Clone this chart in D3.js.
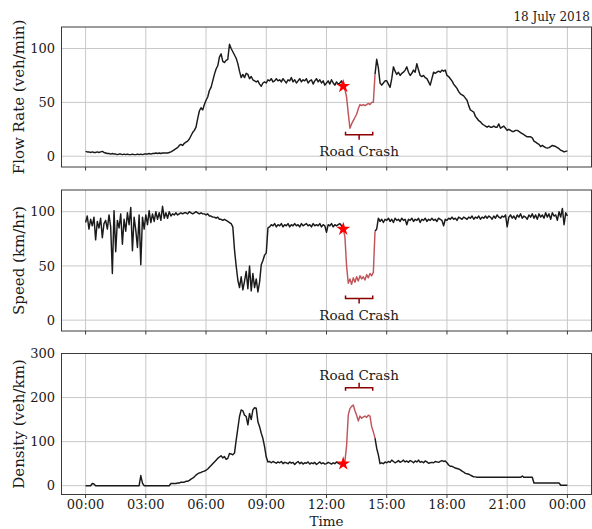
<!DOCTYPE html>
<html>
<head>
<meta charset="utf-8">
<script src="https://cdn.jsdelivr.net/npm/d3@7"></script>
<style>
  body { margin: 0; background: #fff; }
  svg { display: block; }
  text { font-family: "DejaVu Serif", "Liberation Serif", serif; fill: #1a1a1a; }
</style>
</head>
<body>
<svg id="chart" width="592" height="529"></svg>
<script>
// Loop-detector readings for 18 July 2018, one value every 5 minutes from 00:00 to 24:00.
const sampleMinutes = 5;

const flowRate = [
  4.5,4,4,3.5,4,3.5,3.5,4,3.5,4,4.5,3.5,
  3,2.5,2.5,2,2.5,2,2,1.5,2,2,1.5,2,
  1.5,2,1.5,1.5,2,1.5,1.5,2,1.5,2,1.5,2,
  2,2,2.5,2,2.5,2.5,3,2.5,3,2.5,3,3,
  3,3,3.5,4,5,6,7,8,10,11,10,12,
  13,14,16,19,22,24,27,35,42,45,43,48,
  52,55,61,64,70,76,81,84,92,95,88,87,
  89,90,104,100,97,94,91,86,79,73,76,73,
  77,76,72,74,71,70,69,70,67,65,68,69,
  68,71,70,72,69,70,72,70,71,69,72,70,
  68,71,70,73,69,71,68,70,72,69,71,70,
  72,68,70,71,67,70,72,69,71,68,70,66,
  68,70,67,71,68,66,69,67,68,70,65,62,
  55,40,26,30,33,36,39,44,48,47,48,47,
  48,49,48,50,50,76,90,82,68,66,68,70,
  70,67,64,72,83,79,76,78,75,77,78,80,
  83,78,75,77,80,78,86,80,75,74,75,73,
  72,69,66,72,78,77,78,79,78,80,79,80,
  75,74,72,70,67,65,63,60,58,57,56,54,
  52,47,43,42,41,37,35,33,32,30,29,28,
  27,28,27,27,28,27,27,30,26,27,28,26,
  24,25,24,23,23,24,24,23,22,21,20,19,
  18,18,18,17,14,13,12,11,9,10,9,8,
  7.5,8,9,10,9.5,9,8,7,5.5,5,4,4.5,
  5
];

const speed = [
  90,96,84,93,87,95,74,91,85,94,76,89,
  92,84,97,86,43,101,63,92,85,98,70,93,
  82,99,88,104,64,95,83,67,97,51,95,84,
  97,88,101,90,98,91,100,93,99,92,105,94,
  99,94,100,96,98,97,99,97,98,99,98,99,
  99,98,100,99,98,99,100,99,98,99,98,98,
  97,98,96,96,95,95,94,95,93,93,92,93,
  92,91,90,89,86,65,50,37,30,40,28,36,
  45,29,50,27,43,30,38,26,35,51,55,60,
  62,85,86,88,87,89,86,88,87,89,86,88,
  87,89,86,88,87,89,87,88,86,89,87,88,
  89,87,88,86,89,87,88,87,89,86,88,87,
  81,88,87,89,86,88,87,88,89,87,84,77,
  50,34,38,33,39,35,40,36,41,38,40,37,
  42,39,43,41,44,82,84,94,91,93,90,93,
  92,94,91,93,90,94,92,93,91,94,92,93,
  88,93,92,94,91,93,92,94,90,93,92,94,
  91,93,92,94,92,93,91,94,93,92,87,93,
  92,94,93,95,93,94,92,95,94,93,95,94,
  93,95,94,96,93,95,94,96,93,95,94,96,
  94,96,95,93,96,94,97,95,94,96,95,97,
  86,95,97,94,96,93,97,95,98,94,96,95,
  93,97,95,98,94,97,93,98,95,97,94,99,
  95,98,93,99,96,97,92,100,95,103,88,99,
  96
];

const density = [
  0,0,0,0,5,4,0,0,0,0,0,0,
  0,0,0,0,0,0,0,0,0,0,0,0,
  0,0,0,0,0,0,0,0,0,23,6,0,
  0,0,0,0,0,0,0,0,0,0,0,0,
  0,0,0,5,5,5,5,6,6,8,8,8,
  10,10,12,15,17,20,24,27,29,30,32,33,
  35,38,42,46,50,54,58,62,65,68,63,66,
  60,62,73,72,70,74,103,130,157,172,170,160,
  157,138,164,150,172,177,176,145,134,119,107,88,
  65,54,55,52,55,53,51,54,52,55,50,53,
  52,50,54,51,53,48,52,55,50,53,49,52,
  51,54,49,52,50,53,48,51,54,50,52,49,
  50,53,51,49,52,50,54,51,49,52,50,55,
  90,160,175,180,183,170,160,147,158,153,156,158,
  155,160,158,134,122,108,85,70,50,52,50,54,
  52,55,53,58,55,52,54,57,53,55,58,54,
  56,53,57,55,52,56,54,58,53,55,52,56,
  54,51,52,53,52,55,54,53,55,57,55,56,
  52,47,44,44,42,40,39,38,36,33,31,28,
  27,26,24,22,20,20,19,19,19,19,19,19,
  19,19,19,19,19,19,19,19,19,19,19,19,
  19,19,19,19,19,19,19,19,19,22,19,19,
  19,19,19,19,6,6,6,6,6,6,6,6,
  6,6,6,6,6,6,6,6,1,1,1,1,
  1
];

// Road crash window, minutes after midnight (12:50 – 14:25)
const crashStart = 770;
const crashEnd = 865;

const xTickMinutes = [0, 180, 360, 540, 720, 900, 1080, 1260, 1440];
const xTickLabels = ["00:00", "03:00", "06:00", "09:00", "12:00", "15:00", "18:00", "21:00", "00:00"];

const flowTicks = [0, 50, 100];
const speedTicks = [0, 50, 100];
const densityTicks = [0, 100, 200, 300];

const panelLabels = ["Flow Rate (veh/min)", "Speed (km/hr)", "Density (veh/km)"];
const crashLabel = "Road Crash";
const dateLabel = "18 July 2018";
const xAxisLabel = "Time";

// ---- layout & drawing ----
const svg = d3.select("#chart");
const left = 61.5, right = 591.5;
const x = d3.scaleLinear().domain([-72, 1512]).range([left, right]);

const panels = [
  { values: flowRate, label: panelLabels[0], domain: [-10, 120], ticks: flowTicks,
    top: 27, bottom: 167, bracket: 20, text: 0, capDir: -1 },
  { values: speed, label: panelLabels[1], domain: [-10, 120], ticks: speedTicks,
    top: 190, bottom: 331, bracket: 20, text: 0, capDir: -1 },
  { values: density, label: panelLabels[2], domain: [-20, 300], ticks: densityTicks,
    top: 353.5, bottom: 494.5, bracket: 222, text: 240, capDir: 1 }
];

const gridColor = "#c8c8c8";
const frameColor = "#3a3a3a";
const lineColor = "#1a1a1a";
const crashColor = "#c0555a";
const bracketColor = "#8b0000";

panels.forEach((p, idx) => {
  const y = d3.scaleLinear().domain(p.domain).range([p.bottom, p.top]);
  const g = svg.append("g");

  // grid
  g.selectAll(".vgrid").data(xTickMinutes).join("line")
    .attr("x1", d => x(d)).attr("x2", d => x(d))
    .attr("y1", p.top).attr("y2", p.bottom)
    .attr("stroke", gridColor).attr("stroke-width", 1);
  g.selectAll(".hgrid").data(p.ticks).join("line")
    .attr("x1", left).attr("x2", right)
    .attr("y1", d => y(d)).attr("y2", d => y(d))
    .attr("stroke", gridColor).attr("stroke-width", 1);

  // series, with the crash window drawn in red
  const pts = p.values.map((v, i) => ({ t: i * sampleMinutes, v }));
  const line = d3.line().x(d => x(d.t)).y(d => y(d.v));
  const before = pts.filter(d => d.t <= crashStart);
  const during = pts.filter(d => d.t >= crashStart && d.t <= crashEnd);
  const after = pts.filter(d => d.t >= crashEnd);
  [before, after].forEach(seg => {
    g.append("path").datum(seg).attr("d", line)
      .attr("fill", "none").attr("stroke", lineColor)
      .attr("stroke-width", 1.45).attr("stroke-linejoin", "round");
  });
  g.append("path").datum(during).attr("d", line)
    .attr("fill", "none").attr("stroke", crashColor)
    .attr("stroke-width", 1.45).attr("stroke-linejoin", "round");

  // crash onset star
  const startVal = p.values[crashStart / sampleMinutes];
  g.append("path")
    .attr("d", d3.symbol(d3.symbolStar).size(60)())
    .attr("transform", `translate(${x(crashStart)},${y(startVal)})`)
    .attr("fill", "#ff0000");

  // bracket annotation
  const cx = x((crashStart + crashEnd) / 2);
  const halfW = 13.6;
  const by = y(p.bracket);
  const cap = 3 * p.capDir;
  const stem = -5 * p.capDir;
  const bpath = d3.path();
  bpath.moveTo(cx - halfW, by + cap);
  bpath.lineTo(cx - halfW, by);
  bpath.lineTo(cx + halfW, by);
  bpath.lineTo(cx + halfW, by + cap);
  bpath.moveTo(cx, by);
  bpath.lineTo(cx, by + stem);
  g.append("path").attr("d", bpath.toString())
    .attr("fill", "none").attr("stroke", bracketColor).attr("stroke-width", 1.5);
  g.append("text").attr("x", cx).attr("y", y(p.text))
    .attr("text-anchor", "middle").attr("font-size", 13.5)
    .text(crashLabel);

  // frame
  g.append("rect").attr("x", left).attr("y", p.top)
    .attr("width", right - left).attr("height", p.bottom - p.top)
    .attr("fill", "none").attr("stroke", frameColor).attr("stroke-width", 1);

  // x tick marks
  g.selectAll(".xtick").data(xTickMinutes).join("line")
    .attr("x1", d => x(d)).attr("x2", d => x(d))
    .attr("y1", p.bottom).attr("y2", p.bottom + 3.5)
    .attr("stroke", frameColor).attr("stroke-width", 1);

  // y tick labels
  g.selectAll(".ylab").data(p.ticks).join("text")
    .attr("x", 55).attr("y", d => y(d) + 4.7)
    .attr("text-anchor", "end").attr("font-size", 13)
    .text(d => d);

  // y axis title
  g.append("text")
    .attr("transform", `translate(23.5,${(p.top + p.bottom) / 2}) rotate(-90)`)
    .attr("text-anchor", "middle").attr("font-size", 15)
    .text(p.label);

  if (idx === panels.length - 1) {
    g.selectAll(".xlab").data(xTickMinutes).join("text")
      .attr("x", (d) => x(d)).attr("y", p.bottom + 14.5)
      .attr("text-anchor", "middle").attr("font-size", 13)
      .text((d, i) => xTickLabels[i]);
    g.append("text").attr("x", (left + right) / 2).attr("y", 525.5)
      .attr("text-anchor", "middle").attr("font-size", 13.5)
      .text(xAxisLabel);
  }
});

svg.append("text").attr("x", 590).attr("y", 21)
  .attr("text-anchor", "end").attr("font-size", 12)
  .text(dateLabel);
</script>
</body>
</html>
